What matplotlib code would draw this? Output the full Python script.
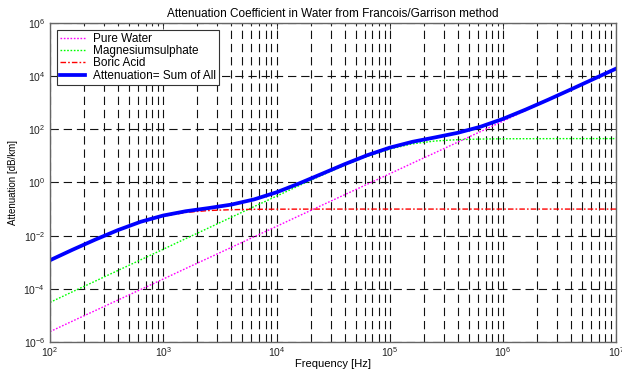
import matplotlib
matplotlib.use("Agg")
import matplotlib.pyplot as plt
from matplotlib.ticker import FixedLocator, LogLocator, NullFormatter, NullLocator

# frequency samples [Hz]
freq = [1.0e2, 1.58e2, 2.51e2, 3.98e2, 6.31e2,
        1.0e3, 1.58e3, 2.51e3, 3.98e3, 6.31e3,
        1.0e4, 1.58e4, 2.51e4, 3.98e4, 6.31e4,
        1.0e5, 1.58e5, 2.51e5, 3.98e5, 6.31e5,
        1.0e6, 1.58e6, 2.51e6, 3.98e6, 6.31e6,
        1.0e7]

# attenuation [dB/km]
pure_water = [2.45e-6, 6.11e-6, 1.52e-5, 3.78e-5, 9.42e-5,
              2.34e-4, 5.83e-4, 1.45e-3, 3.61e-3, 8.99e-3,
              0.0224, 0.0557, 0.139, 0.345, 0.859,
              2.14, 5.32, 13.2, 33.0, 82.0,
              204, 508, 1265, 3148, 7834,
              19500]
mgso4 = [3.09e-5, 7.76e-5, 1.95e-4, 4.90e-4, 1.23e-3,
         3.09e-3, 7.76e-3, 0.0195, 0.0490, 0.123,
         0.307, 0.762, 1.87, 4.42, 9.66,
         18.2, 28.4, 36.4, 40.9, 43.1,
         44.1, 44.4, 44.6, 44.7, 44.7,
         44.7]
boric = [1.16e-3, 2.86e-3, 6.90e-3, 0.0157, 0.0319,
         0.0540, 0.0746, 0.0881, 0.0948, 0.0979,
         0.0991, 0.0995, 0.0998, 0.0999, 0.100,
         0.100, 0.100, 0.100, 0.100, 0.100,
         0.100, 0.100, 0.100, 0.100, 0.100,
         0.100]
total = [1.19e-3, 2.95e-3, 7.11e-3, 0.0162, 0.0333,
         0.0573, 0.0830, 0.109, 0.147, 0.230,
         0.428, 0.918, 2.11, 4.86, 10.6,
         20.5, 33.9, 49.7, 74.0, 125,
         248, 553, 1310, 3190, 7880,
         19500]

x_ticks = [1e2, 1e3, 1e4, 1e5, 1e6, 1e7]
x_labels = ["$10^{2}$", "$10^{3}$", "$10^{4}$", "$10^{5}$", "$10^{6}$", "$10^{7}$"]
y_ticks = [1e-6, 1e-4, 1e-2, 1e0, 1e2, 1e4, 1e6]
y_labels = ["$10^{-6}$", "$10^{-4}$", "$10^{-2}$", "$10^{0}$", "$10^{2}$", "$10^{4}$", "$10^{6}$"]

plt.rcParams["font.family"] = ["Liberation Sans", "DejaVu Sans"]
plt.rcParams["mathtext.fontset"] = "custom"
plt.rcParams["mathtext.rm"] = "Liberation Sans"
plt.rcParams["mathtext.it"] = "Liberation Sans:italic"
plt.rcParams["lines.scale_dashes"] = False

fig = plt.figure(figsize=(6.22, 3.69), dpi=100)
ax = fig.add_axes([0.0804, 0.0732, 0.9106, 0.8645])

ax.plot(freq, pure_water, color="#ff00ff", linestyle=(0, (1.2, 1.2)), linewidth=1.0, label="Pure Water")
ax.plot(freq, mgso4, color="#00ff00", linestyle=(0, (1.2, 1.2)), linewidth=1.0, label="Magnesiumsulphate")
ax.plot(freq, boric, color="#ff0000", linestyle=(0, (4, 1.5, 1.2, 1.5)), linewidth=1.0, label="Boric Acid")
ax.plot(freq, total, color="#0000ff", linewidth=2.7, label="Attenuation= Sum of All")

ax.set_xscale("log")
ax.set_yscale("log")
ax.set_xlim(1e2, 1e7)
ax.set_ylim(1e-6, 1e6)

ax.xaxis.set_major_locator(FixedLocator(x_ticks))
ax.set_xticklabels(x_labels)
ax.xaxis.set_minor_locator(LogLocator(base=10, subs=range(2, 10)))
ax.xaxis.set_minor_formatter(NullFormatter())
ax.yaxis.set_major_locator(FixedLocator(y_ticks))
ax.set_yticklabels(y_labels)
ax.yaxis.set_minor_locator(NullLocator())

ax.tick_params(which="both", direction="in", top=True, right=True, labelsize=7.5, colors="#222222", width=0.6)
ax.tick_params(which="major", length=4)
ax.tick_params(which="minor", length=2.5)
ax.tick_params(axis="x", pad=2)

dash = (0, (6, 3.5))
ax.grid(True, which="major", axis="both", color="#111111", linestyle=dash, linewidth=0.8)
ax.grid(True, which="minor", axis="x", color="#111111", linestyle=dash, linewidth=0.8)

for s in ax.spines.values():
    s.set_color("#666666")
    s.set_linewidth(1.0)

ax.set_title("Attenuation Coefficient in Water from Francois/Garrison method", fontsize=8.5, pad=4)
ax.set_xlabel("Frequency [Hz]", fontsize=8, labelpad=0)
ax.set_ylabel("Attenuation [dB/km]", fontsize=7, labelpad=4)

leg = ax.legend(loc="upper left", bbox_to_anchor=(0.012, 0.978), borderaxespad=0,
                fontsize=8.5, handlelength=2.1, handletextpad=0.7, labelspacing=0.02,
                borderpad=0.25, fancybox=False, framealpha=1, edgecolor="#333333")
leg.get_frame().set_linewidth(0.8)

fig.savefig("out.png", dpi=100)
